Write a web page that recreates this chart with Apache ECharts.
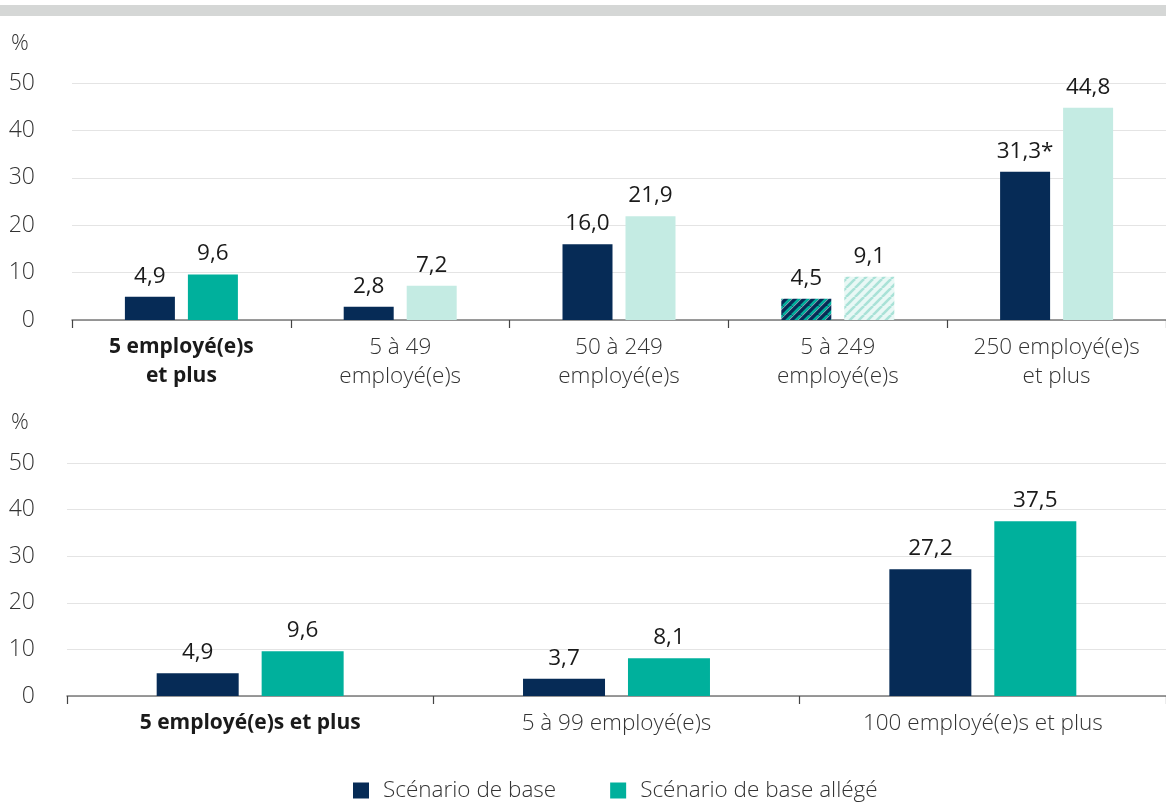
<!DOCTYPE html>
<html><head><meta charset="utf-8">
<script src="https://cdn.jsdelivr.net/npm/echarts@6/dist/echarts.min.js"></script>
<style>html,body{margin:0;padding:0;background:#fff}#c{width:1166px;height:802px}</style>
</head><body><div id="c"></div>
<script>
const seriesNames = ['Scénario de base', 'Scénario de base allégé'];
const topCategories = ['5 employé(e)s\net plus', '5 à 49\nemployé(e)s', '50 à 249\nemployé(e)s', '5 à 249\nemployé(e)s', '250 employé(e)s\net plus'];
const topBase = [4.9, 2.8, 16.0, 4.5, 31.3];
const topLight = [9.6, 7.2, 21.9, 9.1, 44.8];
const topBaseNotes = ['', '', '', '', '*'];
const bottomCategories = ['5 employé(e)s et plus', '5 à 99 employé(e)s', '100 employé(e)s et plus'];
const bottomBase = [4.9, 3.7, 27.2];
const bottomLight = [9.6, 8.1, 37.5];
const yMin = 0, yMax = 50, yStep = 10;

const NAVY = '#062b56', TEAL = '#00b09c', LIGHT = '#c4ebe3';
const FONT = '"Open Sans", "Noto Sans", sans-serif';
const W = 300;
const TOTAL_INDEX = 0;   // bold, full colour
const HATCH_INDEX = 3;   // hatched category in top chart

function hatch(bg, stripe, edge) {
  const p = 9;
  const c = document.createElement('canvas');
  c.width = p; c.height = p;
  const g = c.getContext('2d');
  g.fillStyle = bg; g.fillRect(0, 0, p, p);
  for (let k = -1; k <= 1; k++) {
    g.strokeStyle = stripe; g.lineWidth = 2.6;
    g.beginPath(); g.moveTo(k * p, p); g.lineTo(k * p + p, 0); g.stroke();
    if (edge) {
      g.strokeStyle = edge; g.lineWidth = 0.7;
      g.beginPath(); g.moveTo(k * p + 2.2, p); g.lineTo(k * p + p + 2.2, 0); g.stroke();
    }
  }
  return { image: c, repeat: 'repeat' };
}
const hatchDark = hatch(NAVY, TEAL, 'rgba(255,255,255,0.8)');
const hatchLight = hatch('#e9f8f5', '#a9e2d7', null);

const fmt = v => v.toFixed(1).replace('.', ',');

function catLabel(v, i) {
  if (i === TOTAL_INDEX) return v.split('\n').map(s => '{b|' + s + '}').join('\n');
  return v.split('\n').map(s => '{n|' + s + '}').join('\n');
}

const labelCommon = { show: true, position: 'top', distance: 9, fontSize: 22.5, fontWeight: 400, color: '#1a1a1a', fontFamily: FONT };

function buildBase(vals, notes, hatched) {
  return vals.map((v, i) => ({
    value: v,
    itemStyle: { color: (hatched && i === HATCH_INDEX) ? hatchDark : NAVY },
    label: { formatter: fmt(v) + (notes ? notes[i] : '') }
  }));
}
function buildLight(vals, hatched, allFull) {
  return vals.map((v, i) => ({
    value: v,
    itemStyle: { color: (allFull || i === TOTAL_INDEX) ? TEAL : ((hatched && i === HATCH_INDEX) ? hatchLight : LIGHT) },
    label: { formatter: fmt(v) }
  }));
}

function xAxisOf(gridIndex, cats) {
  return {
    type: 'category', gridIndex, data: cats,
    axisLine: { lineStyle: { color: '#7a7a7a', width: 1.5 } },
    axisTick: { show: true, length: 8, lineStyle: { color: '#444', width: 1.2 } },
    axisLabel: {
      interval: 0, margin: 13, formatter: catLabel,
      rich: {
        b: { fontSize: 21, fontWeight: 'bold', color: '#1a1a1a', fontFamily: FONT, lineHeight: 29 },
        n: { fontSize: 22.5, fontWeight: W, color: '#333', fontFamily: FONT, lineHeight: 29 }
      }
    }
  };
}
function yAxisOf(gridIndex, margin) {
  return {
    type: 'value', gridIndex, min: yMin, max: yMax, interval: yStep,
    axisLine: { show: false }, axisTick: { show: false },
    axisLabel: { margin, fontSize: 23, fontWeight: W, color: '#333', fontFamily: FONT },
    splitLine: { lineStyle: { color: '#e4e4e4', width: 1.2 } }
  };
}

const chart = echarts.init(document.getElementById('c'), null, { renderer: 'canvas' });
chart.setOption({
  animation: false,
  backgroundColor: '#fff',
  graphic: [
    { type: 'rect', shape: { x: 0, y: 5, width: 1166, height: 11 }, style: { fill: '#d5d7d6' } },
    { type: 'text', left: 11, top: 33, style: { text: '%', fontSize: 22, fontWeight: W, fill: '#333', fontFamily: FONT } },
    { type: 'text', left: 11, top: 412, style: { text: '%', fontSize: 22, fontWeight: W, fill: '#333', fontFamily: FONT } }
  ],
  legend: {
    data: seriesNames, left: 353, top: 779, padding: 0, icon: 'rect', itemWidth: 16, itemHeight: 16, itemGap: 54,
    textStyle: { fontSize: 22.5, fontWeight: W, color: '#333', fontFamily: FONT, padding: [0, 0, 0, 9] }
  },
  grid: [
    { left: 72, right: 0, top: 83, height: 237 },
    { left: 67, right: 0, top: 463, height: 233 }
  ],
  xAxis: [xAxisOf(0, topCategories), xAxisOf(1, bottomCategories)],
  yAxis: [yAxisOf(0, 37), yAxisOf(1, 32)],
  series: [
    { name: seriesNames[0], type: 'bar', xAxisIndex: 0, yAxisIndex: 0, barWidth: 50, barGap: '26%', color: NAVY,
      label: labelCommon, data: buildBase(topBase, topBaseNotes, true) },
    { name: seriesNames[1], type: 'bar', xAxisIndex: 0, yAxisIndex: 0, barWidth: 50, barGap: '26%', color: TEAL,
      label: labelCommon, data: buildLight(topLight, true, false) },
    { name: seriesNames[0], type: 'bar', xAxisIndex: 1, yAxisIndex: 1, barWidth: 82, barGap: '28%', color: NAVY,
      label: labelCommon, data: buildBase(bottomBase, null, false) },
    { name: seriesNames[1], type: 'bar', xAxisIndex: 1, yAxisIndex: 1, barWidth: 82, barGap: '28%', color: TEAL,
      label: labelCommon, data: buildLight(bottomLight, false, true) }
  ]
});
</script></body></html>
